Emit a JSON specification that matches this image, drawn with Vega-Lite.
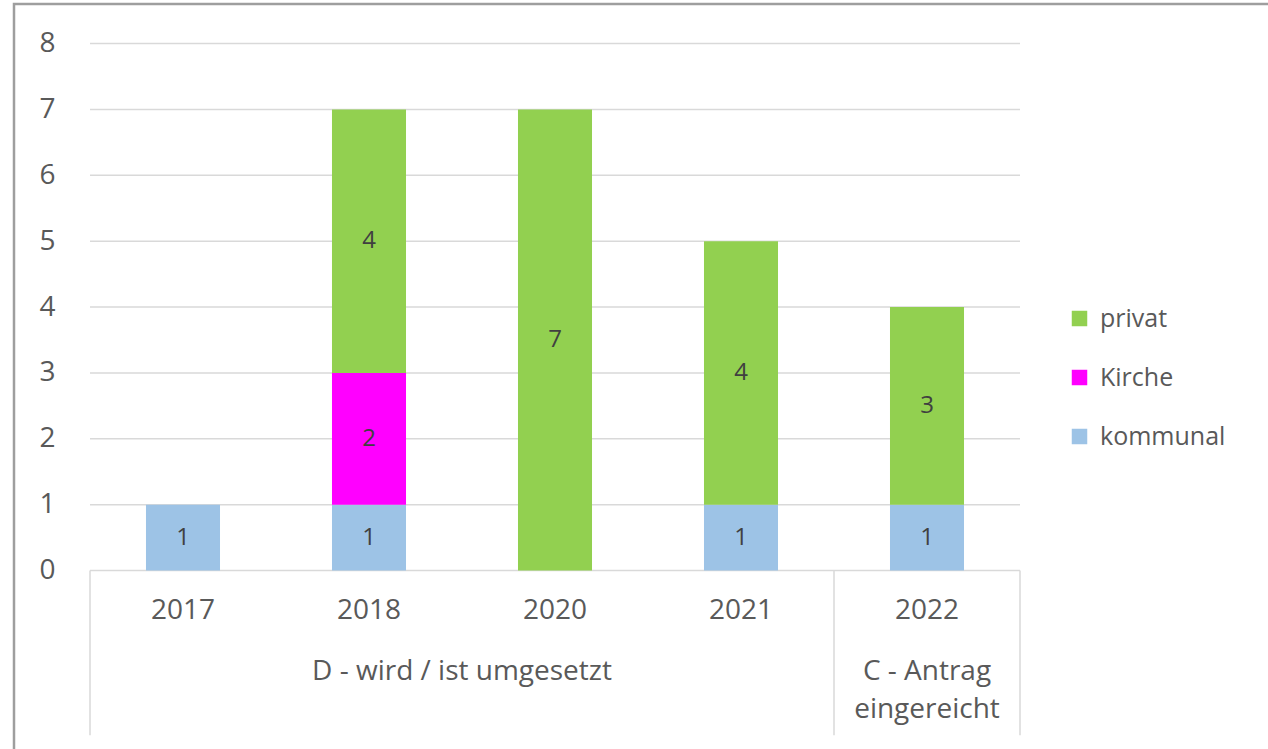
{
  "$schema": "https://vega.github.io/schema/vega-lite/v6.json",
  "width": 1258,
  "height": 749,
  "autosize": "none",
  "padding": {"left": 14, "top": 4, "right": -4, "bottom": -4},
  "background": "white",
  "config": {"view": {"stroke": "#9E9E9E", "strokeWidth": 2.5}, "font": "Open Sans"},
  "data": {"values": [
    {"year": "2017", "type": "kommunal", "value": 1},
    {"year": "2018", "type": "kommunal", "value": 1},
    {"year": "2018", "type": "Kirche", "value": 2},
    {"year": "2018", "type": "privat", "value": 4},
    {"year": "2020", "type": "privat", "value": 7},
    {"year": "2021", "type": "kommunal", "value": 1},
    {"year": "2021", "type": "privat", "value": 4},
    {"year": "2022", "type": "kommunal", "value": 1},
    {"year": "2022", "type": "privat", "value": 3}
  ]},
  "layer": [
    {
      "data": {"values": [{"v": 0}, {"v": 1}, {"v": 2}, {"v": 3}, {"v": 4}, {"v": 5}, {"v": 6}, {"v": 7}, {"v": 8}]},
      "mark": {"type": "rule", "color": "#D9D9D9", "strokeWidth": 1.5},
      "encoding": {
        "y": {"field": "v", "type": "quantitative", "title": null},
        "x": {"datum": "2017", "bandPosition": 0, "title": null},
        "x2": {"datum": "2022", "bandPosition": 1}
      }
    },
    {
      "data": {"values": [{}]},
      "mark": {"type": "rule", "color": "#D9D9D9", "strokeWidth": 1.5},
      "encoding": {"x": {"datum": "2017", "bandPosition": 0, "title": null}, "y": {"datum": 0, "title": null}, "y2": {"datum": -2.5}}
    },
    {
      "data": {"values": [{}]},
      "mark": {"type": "rule", "color": "#D9D9D9", "strokeWidth": 1.5},
      "encoding": {"x": {"datum": "2022", "bandPosition": 0, "title": null}, "y": {"datum": 0, "title": null}, "y2": {"datum": -2.5}}
    },
    {
      "data": {"values": [{}]},
      "mark": {"type": "rule", "color": "#D9D9D9", "strokeWidth": 1.5},
      "encoding": {"x": {"datum": "2022", "bandPosition": 1, "title": null}, "y": {"datum": 0, "title": null}, "y2": {"datum": -2.5}}
    },
    {
      "transform": [
        {"calculate": "indexof(['kommunal','Kirche','privat'], datum.type)", "as": "ord"},
        {"stack": "value", "groupby": ["year"], "sort": [{"field": "ord", "order": "ascending"}], "as": ["v0", "v1"]}
      ],
      "mark": {"type": "bar", "width": {"band": 0.398}},
      "encoding": {
        "x": {
          "field": "year", "type": "nominal", "title": null,
          "scale": {"domain": ["2017", "2018", "2020", "2021", "2022"], "paddingInner": 0, "paddingOuter": 0.8817, "align": 0.2317},
          "axis": {"orient": "bottom", "offset": -143, "domain": false, "ticks": false, "labelPadding": 0, "labelBaseline": "middle", "labelAlign": "center", "labelAngle": 0, "labelFontSize": 28, "labelColor": "#595959", "grid": false}
        },
        "y": {
          "field": "v0", "type": "quantitative", "title": null,
          "scale": {"domain": [-2.77, 8.6], "nice": false, "zero": false},
          "axis": {"values": [0, 1, 2, 3, 4, 5, 6, 7, 8], "format": "d", "offset": -41, "domain": false, "ticks": false, "labelPadding": 0, "grid": false, "labelFontSize": 28, "labelColor": "#595959"}
        },
        "y2": {"field": "v1"},
        "color": {
          "field": "type", "type": "nominal",
          "scale": {"domain": ["kommunal", "Kirche", "privat"], "range": ["#9DC3E6", "#FF00FF", "#92D050"]},
          "legend": {"orient": "none", "legendX": 1053, "legendY": 302, "values": ["privat", "Kirche", "kommunal"], "symbolType": "square", "symbolSize": 240, "symbolStrokeWidth": 0, "labelFontSize": 25, "labelColor": "#595959", "rowPadding": 33, "labelOffset": 8, "title": null}
        }
      }
    },
    {
      "transform": [
        {"calculate": "indexof(['kommunal','Kirche','privat'], datum.type)", "as": "ord"},
        {"stack": "value", "groupby": ["year"], "sort": [{"field": "ord", "order": "ascending"}], "as": ["v0", "v1"]},
        {"calculate": "(datum.v0 + datum.v1) / 2", "as": "mid"}
      ],
      "mark": {"type": "text", "fontSize": 24, "color": "#404040"},
      "encoding": {
        "x": {"field": "year", "type": "nominal", "title": null},
        "y": {"field": "mid", "type": "quantitative", "title": null},
        "text": {"field": "value", "type": "quantitative"}
      }
    },
    {
      "data": {"values": [{}]},
      "mark": {"type": "text", "fontSize": 28, "color": "#595959"},
      "encoding": {"x": {"datum": "2018", "bandPosition": 1, "title": null}, "y": {"datum": -1.54, "title": null}, "text": {"value": "D - wird / ist umgesetzt"}}
    },
    {
      "data": {"values": [{}]},
      "mark": {"type": "text", "fontSize": 28, "color": "#595959", "lineHeight": 38, "baseline": "middle"},
      "encoding": {"x": {"datum": "2022", "bandPosition": 0.5, "title": null}, "y": {"datum": -1.54, "title": null}, "text": {"value": ["C - Antrag", "eingereicht"]}}
    }
  ]
}
